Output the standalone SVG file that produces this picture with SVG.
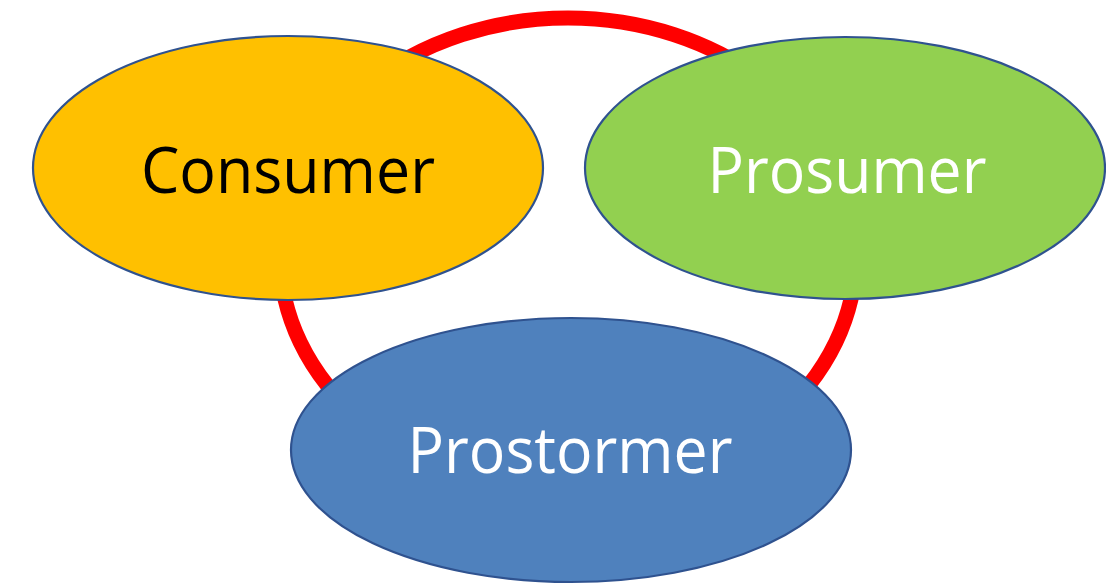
<svg xmlns="http://www.w3.org/2000/svg" width="1106" height="584" viewBox="0 0 1106 584">
<style>
.node{stroke:#2F528F;stroke-width:2.2}
.lbl{font-family:"Open Sans","Liberation Sans",sans-serif;font-size:64px;text-anchor:middle}
</style>
<rect width="1106" height="584" fill="#FFFFFF"/>
<g id="connectors">
<ellipse cx="568" cy="255" rx="288" ry="237" fill="none" stroke="#FF0000" stroke-width="15"/>
</g>
<g id="consumer">
<ellipse class="node" cx="288" cy="168" rx="255" ry="132" fill="#FFC000"/>
<text class="lbl" x="288" y="193" fill="#000000" textLength="294" lengthAdjust="spacingAndGlyphs">Consumer</text>
</g>
<g id="prosumer">
<ellipse class="node" cx="845" cy="168" rx="260" ry="131" fill="#92D050"/>
<text class="lbl" x="847" y="193" fill="#FFFFFF" textLength="279" lengthAdjust="spacingAndGlyphs">Prosumer</text>
</g>
<g id="prostormer">
<ellipse class="node" cx="571" cy="450" rx="280" ry="132" fill="#4F81BD"/>
<text class="lbl" x="570" y="473" fill="#FFFFFF" textLength="325" lengthAdjust="spacingAndGlyphs">Prostormer</text>
</g>
</svg>
